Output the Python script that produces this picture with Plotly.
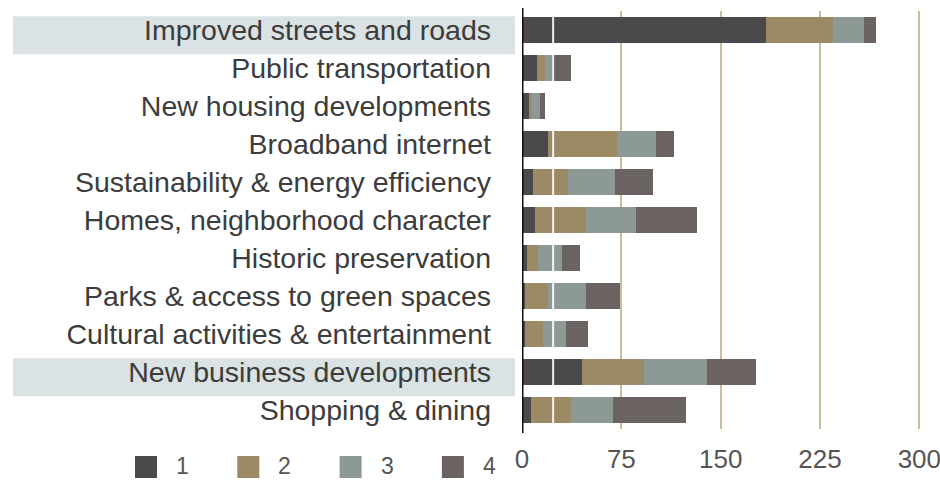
import plotly.graph_objects as go

# Priorities, listed top to bottom
categories = [
    "Improved streets and roads",
    "Public transportation",
    "New housing developments",
    "Broadband internet",
    "Sustainability & energy efficiency",
    "Homes, neighborhood character",
    "Historic preservation",
    "Parks & access to green spaces",
    "Cultural activities & entertainment",
    "New business developments",
    "Shopping & dining",
]

# Number of responses for each rank
rank_1 = [184, 11, 5, 20, 8, 10, 4, 2, 2, 45, 7]
rank_2 = [51, 6, 2.5, 52, 27, 38, 8, 18, 14, 47, 30]
rank_3 = [23, 6, 6, 29, 35, 38, 18, 28, 17, 48, 32]
rank_4 = [9, 14, 4, 14, 29, 46, 14, 26, 17, 37, 55]

series_names = ["1", "2", "3", "4"]
series_values = [rank_1, rank_2, rank_3, rank_4]
series_colors = ["#4b494b", "#9c8966", "#8d9995", "#6a6361"]

x_ticks = [0, 75, 150, 225, 300]
x_max = 302
highlighted = ["Improved streets and roads", "New business developments"]

FONT = "Liberation Sans, Arial, sans-serif"
TEXT = "#3c3c3c"

W, H = 940, 480
ML, MR, MT, MB = 522, 18, 11, 51
PW, PH = W - ML - MR, H - MT - MB


def px_x(px):
    return (px - ML) / PW


def px_y(py):
    return (H - MB - py) / PH


fig = go.Figure()
for name, vals, col in zip(series_names, series_values, series_colors):
    fig.add_trace(go.Bar(
        y=categories, x=vals, name=name, orientation="h",
        marker=dict(color=col, line=dict(width=0)),
        showlegend=False,
    ))

shapes = []
# pale bands behind the highlighted labels
for cat in highlighted:
    i = categories.index(cat)
    shapes.append(dict(
        type="rect", layer="below", xref="paper", yref="y",
        x0=px_x(13), x1=px_x(515), y0=i - 0.36, y1=i + 0.64,
        fillcolor="#dae2e3", line=dict(width=0),
    ))
# light streak across the bars
shapes.append(dict(
    type="line", layer="above", xref="x", yref="y",
    x0=23.5, x1=23.5, y0=-0.45, y1=len(categories) - 0.55,
    line=dict(color="rgba(255,255,255,0.9)", width=2),
))
# extended baseline
shapes.append(dict(
    type="line", layer="above", xref="x", yref="paper",
    x0=0, x1=0, y0=px_y(433), y1=px_y(8),
    line=dict(color="#111111", width=3),
))

annotations = []
# legend: swatch + label for each rank
for k, (name, col) in enumerate(zip(series_names, series_colors)):
    x0 = 135 + k * 102.3
    shapes.append(dict(
        type="rect", xref="paper", yref="paper",
        x0=px_x(x0), x1=px_x(x0 + 22), y0=px_y(478), y1=px_y(456),
        fillcolor=col, line=dict(width=0),
    ))
    annotations.append(dict(
        xref="paper", yref="paper", x=px_x(x0 + 40), y=px_y(466),
        text=name, showarrow=False, xanchor="left", yanchor="middle",
        borderpad=0,
        font=dict(family=FONT, size=23, color="#555555"),
    ))

fig.update_layout(
    width=W, height=H,
    margin=dict(l=ML, r=MR, t=MT, b=MB, pad=0, autoexpand=False),
    barmode="stack", bargap=0.31,
    plot_bgcolor="white", paper_bgcolor="white",
    shapes=shapes, annotations=annotations,
    xaxis=dict(
        range=[0, x_max], tickvals=x_ticks, ticktext=[str(v) for v in x_ticks],
        showgrid=True, gridcolor="#c9bd9c", gridwidth=2,
        zeroline=False, showline=False, ticks="", automargin=False,
        ticklabelstandoff=12, ticklabeloverflow="allow",
        tickfont=dict(family=FONT, size=26, color="#555555"),
    ),
    yaxis=dict(
        categoryorder="array", categoryarray=categories,
        autorange="reversed", showgrid=False, zeroline=False,
        showline=False, ticks="", ticklabelstandoff=30, automargin=False,
        tickfont=dict(family=FONT, size=28.5, color=TEXT),
    ),
)

fig.write_html("out.html")
